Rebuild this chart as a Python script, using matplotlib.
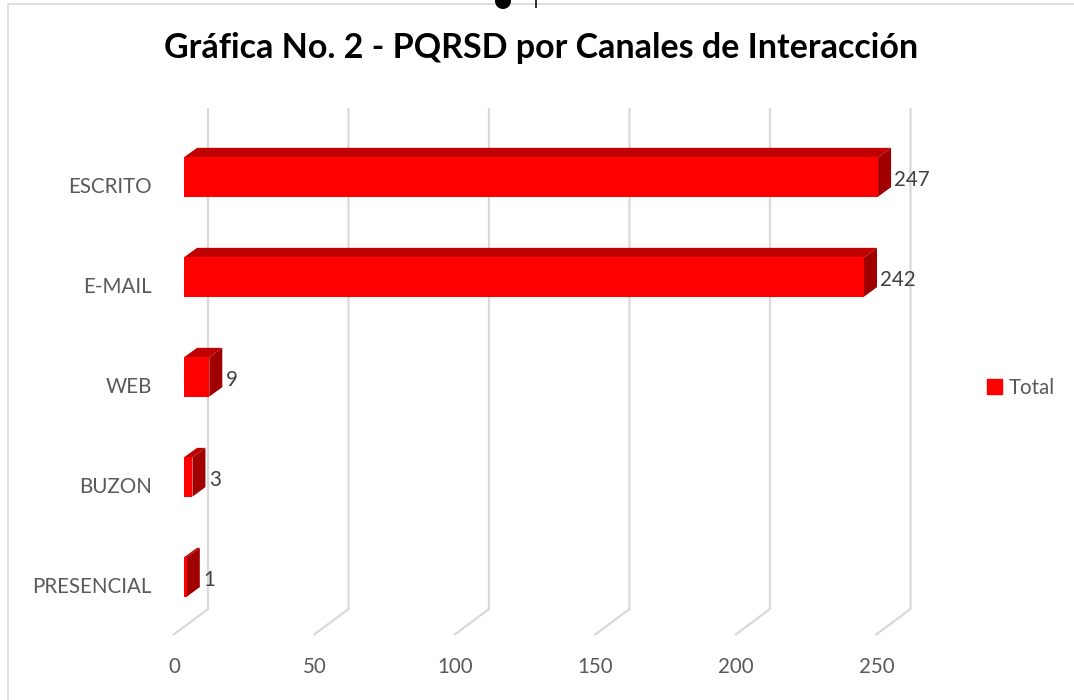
import matplotlib
matplotlib.use("Agg")
import matplotlib.pyplot as plt
from matplotlib.patches import Polygon, Rectangle, Ellipse

# data (bottom to top as drawn)
categories = ["PRESENCIAL", "BUZON", "WEB", "E-MAIL", "ESCRITO"]
totals = [1, 3, 9, 242, 247]
x_ticks = [0, 50, 100, 150, 200, 250]
series_name = "Total"
title = "Gráfica No. 2 - PQRSD por Canales de Interacción"

FRONT = "#ff0000"
TOP = "#c00000"
SIDE = "#a00000"
GRID = "#d9d9d9"
TXT = "#595959"
FS = 14.8

plt.rcParams["font.family"] = ["Lato", "DejaVu Sans"]

fig = plt.figure(figsize=(10.74, 7.0), dpi=100)
ax = fig.add_axes([0, 0, 1, 1])
ax.axis("off")

# 2.81 px per unit on x, 100 px per category on y
px_x = 2.81
ax.set_xlim(-184 / px_x, (1074 - 184) / px_x)
ax.set_ylim(-1.23, 5.77)

# oblique depth for the fake 3d look
dx = 13 / px_x
dy = 0.095
back_dx = 24 / px_x
front_dx = -11 / px_x
bar_h = 0.393

# back wall gridlines + floor diagonals
for v in x_ticks:
    ax.plot([v + back_dx, v + back_dx, v + front_dx], [4.69, -0.32, -0.58],
            color=GRID, lw=1.6, solid_capstyle="butt", zorder=1)
    ax.text(v + front_dx + 0.4, -0.90, str(v), ha="center", va="center",
            fontsize=FS, color=TXT)

for i, (cat, v) in enumerate(zip(categories, totals)):
    y0 = i - bar_h / 2
    y1 = i + bar_h / 2
    top = Polygon([(0, y1), (dx, y1 + dy), (v + dx, y1 + dy), (v, y1)],
                  closed=True, facecolor=TOP, edgecolor="none", zorder=3)
    side = Polygon([(v, y0), (v + dx, y0 + dy), (v + dx, y1 + dy), (v, y1)],
                   closed=True, facecolor=SIDE, edgecolor="none", zorder=3)
    ax.add_patch(top)
    ax.add_patch(side)
    ax.barh(i, v, height=bar_h, left=0, color=FRONT, edgecolor="none", zorder=4)
    ax.text(v + dx + 1.2, i - 0.03, str(v), ha="left", va="center",
            fontsize=FS, color="#404040", zorder=5)
    ax.text(-11.4, i - 0.10, cat, ha="right", va="center",
            fontsize=FS, color=TXT)

# legend
leg = ax.legend(handles=[Rectangle((0, 0), 1, 1, color=FRONT)], labels=[series_name],
                loc="center left", bbox_to_anchor=(968 / 1074, 1 - 388 / 700),
                frameon=False, handlelength=0.75, handleheight=0.75,
                handletextpad=0.35, prop={"size": FS})
for t in leg.get_texts():
    t.set_color(TXT)

fig.text(541 / 1074, 1 - 48 / 700, title, ha="center", va="center",
         fontsize=24.5, fontweight="bold", color="black")

# chart area border (partly cropped in the source)
fig.add_artist(Rectangle((8 / 1074, -0.1), 1.2, 1 - 4 / 700 + 0.1,
                         transform=fig.transFigure, fill=False,
                         edgecolor=GRID, lw=1.2))

# cropped bit of something above the chart in the screenshot
fig.add_artist(Ellipse((503 / 1074, 1 - 1 / 700), 16 / 1074, 16 / 700,
                       transform=fig.transFigure, facecolor="black",
                       edgecolor="none"))
fig.add_artist(Rectangle((535 / 1074, 1 - 8 / 700), 1.5 / 1074, 8 / 700,
                         transform=fig.transFigure, facecolor="#333333",
                         edgecolor="none"))

fig.savefig("out.png", dpi=100, facecolor="white")
